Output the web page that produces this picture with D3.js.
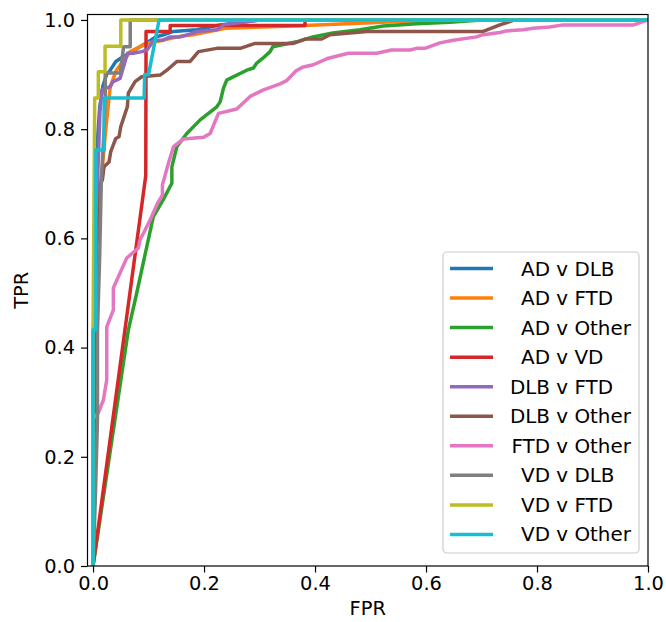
<!DOCTYPE html>
<html>
<head>
<meta charset="utf-8">
<script src="https://cdn.jsdelivr.net/npm/d3@7"></script>
<style>
  body { margin: 0; background: #fff; }
  text { font-family: "DejaVu Sans", sans-serif; fill: #000; }
</style>
</head>
<body>
<svg id="chart" width="666" height="622"></svg>
<script>
// ---------------- data ----------------
const seriesNames = ["AD v DLB", "AD v FTD", "AD v Other", "AD v VD", "DLB v FTD",
                     "DLB v Other", "FTD v Other", "VD v DLB", "VD v FTD", "VD v Other"];
const seriesColors = ["#1f77b4", "#ff7f0e", "#2ca02c", "#d62728", "#9467bd",
                      "#8c564b", "#e377c2", "#7f7f7f", "#bcbd22", "#17becf"];

const adDlbFpr = [0, 0, 0.005, 0.008, 0.012, 0.018, 0.025, 0.029, 0.041, 0.05, 0.075, 0.104, 0.113, 0.128, 0.145, 0.187, 0.229, 0.3, 1];
const adDlbTpr = [0, 0.35, 0.62, 0.78, 0.84, 0.88, 0.902, 0.905, 0.924, 0.93, 0.945, 0.963, 0.969, 0.973, 0.979, 0.982, 0.991, 1, 1];

const adFtdFpr = [0, 0, 0.005, 0.013, 0.016, 0.022, 0.025, 0.031, 0.042, 0.067, 0.096, 0.126, 0.157, 0.18, 0.241, 0.36, 0.5, 0.62, 1];
const adFtdTpr = [0, 0.35, 0.6, 0.7, 0.72, 0.79, 0.82, 0.878, 0.908, 0.942, 0.957, 0.963, 0.97, 0.973, 0.985, 0.989, 0.995, 1, 1];

const adOtherFpr = [0, 0.0636, 0.0798, 0.1086, 0.126, 0.142, 0.142, 0.151, 0.169, 0.193, 0.223, 0.229, 0.235, 0.241, 0.247, 0.277, 0.289, 0.295, 0.306, 0.319, 0.324, 0.367, 0.396, 0.432, 0.481, 0.523, 0.583, 0.643, 0.7, 1];
const adOtherTpr = [0, 0.432, 0.505, 0.64, 0.67, 0.701, 0.731, 0.768, 0.792, 0.817, 0.841, 0.85, 0.875, 0.89, 0.893, 0.908, 0.912, 0.921, 0.93, 0.942, 0.951, 0.96, 0.969, 0.976, 0.982, 0.989, 0.993, 0.996, 1, 1];

const adVdFpr = [0, 0.095, 0.0955, 0.139, 0.139, 0.382, 0.382, 1];
const adVdTpr = [0, 0.715, 0.979, 0.979, 0.99, 0.99, 1, 1];

const dlbFtdFpr = [0, 0, 0.005, 0.0126, 0.0157, 0.031, 0.036, 0.0486, 0.056, 0.062, 0.072, 0.088, 0.097, 0.11, 0.126, 0.139, 0.157, 0.18, 0.187, 0.223, 0.235, 0.3, 1];
const dlbFtdTpr = [0, 0.4, 0.62, 0.835, 0.872, 0.878, 0.887, 0.893, 0.918, 0.939, 0.939, 0.942, 0.945, 0.963, 0.963, 0.969, 0.969, 0.976, 0.979, 0.982, 0.991, 1, 1];

const dlbOtherFpr = [0, 0.003, 0.006, 0.0108, 0.0139, 0.0168, 0.0198, 0.0288, 0.0319, 0.041, 0.0468, 0.05, 0.0559, 0.0618, 0.0636, 0.0757, 0.0877, 0.121, 0.133, 0.151, 0.175, 0.19, 0.223, 0.265, 0.292, 0.361, 0.382, 0.412, 0.427, 0.493, 0.703, 0.733, 0.76, 1];
const dlbOtherTpr = [0, 0.3, 0.58, 0.634, 0.701, 0.707, 0.731, 0.74, 0.759, 0.783, 0.786, 0.805, 0.823, 0.841, 0.866, 0.887, 0.896, 0.899, 0.908, 0.924, 0.924, 0.942, 0.948, 0.948, 0.957, 0.957, 0.965, 0.965, 0.973, 0.979, 0.979, 0.991, 1, 1];

const ftdOtherFpr = [0, 0, 0.0095, 0.0186, 0.0247, 0.0247, 0.0366, 0.0366, 0.0607, 0.0816, 0.0847, 0.103, 0.116, 0.125, 0.125, 0.136, 0.145, 0.163, 0.199, 0.211, 0.226, 0.259, 0.283, 0.307, 0.337, 0.349, 0.366, 0.379, 0.397, 0.424, 0.46, 0.511, 0.538, 0.571, 0.583, 0.598, 0.625, 0.649, 0.691, 0.703, 0.733, 0.745, 0.775, 0.793, 0.823, 0.847, 0.974, 1];
const ftdOtherTpr = [0, 0.27, 0.28, 0.304, 0.341, 0.438, 0.469, 0.509, 0.564, 0.582, 0.597, 0.634, 0.664, 0.679, 0.698, 0.738, 0.768, 0.782, 0.785, 0.792, 0.829, 0.837, 0.86, 0.872, 0.883, 0.889, 0.907, 0.914, 0.918, 0.93, 0.939, 0.939, 0.945, 0.945, 0.948, 0.948, 0.958, 0.963, 0.969, 0.973, 0.977, 0.98, 0.982, 0.985, 0.987, 0.991, 0.991, 1];

const vdDlbFpr = [0, 0.004, 0.008, 0.008, 0.012, 0.015, 0.02, 0.022, 0.022, 0.049, 0.055, 0.067, 0.067, 1];
const vdDlbTpr = [0, 0.12, 0.27, 0.43, 0.57, 0.71, 0.8, 0.857, 0.903, 0.903, 0.951, 0.951, 1, 1];

const vdFtdFpr = [0, 0, 0.003, 0.0095, 0.0095, 0.0216, 0.0216, 0.05, 0.05, 1];
const vdFtdTpr = [0, 0.43, 0.857, 0.857, 0.905, 0.905, 0.952, 0.952, 1, 1];

const vdOtherFpr = [0, 0, 0.005, 0.005, 0.02, 0.02, 0.092, 0.093, 0.1, 0.119, 1];
const vdOtherTpr = [0, 0.432, 0.432, 0.762, 0.762, 0.857, 0.857, 0.9, 0.9, 1, 1];

const fprSeries = [adDlbFpr, adFtdFpr, adOtherFpr, adVdFpr, dlbFtdFpr, dlbOtherFpr, ftdOtherFpr, vdDlbFpr, vdFtdFpr, vdOtherFpr];
const tprSeries = [adDlbTpr, adFtdTpr, adOtherTpr, adVdTpr, dlbFtdTpr, dlbOtherTpr, ftdOtherTpr, vdDlbTpr, vdFtdTpr, vdOtherTpr];

const xTicks = [0.0, 0.2, 0.4, 0.6, 0.8, 1.0];
const yTicks = [0.0, 0.2, 0.4, 0.6, 0.8, 1.0];
const xLabel = "FPR";
const yLabel = "TPR";

// ---------------- layout ----------------
const plot = { left: 87.5, right: 648, top: 14.5, bottom: 566 };
const fontSize = 19.4;
const legendFont = 19.9;
const lineW = 3.5;

const svg = d3.select("#chart");
const x = d3.scaleLinear().domain([-0.01, 1.0]).range([plot.left, plot.right]);
const y = d3.scaleLinear().domain([0.0, 1.01]).range([plot.bottom, plot.top]);

svg.append("defs").append("clipPath").attr("id", "clip")
  .append("rect").attr("x", plot.left).attr("y", plot.top)
  .attr("width", plot.right - plot.left).attr("height", plot.bottom - plot.top);

// lines
const line = d3.line().x(d => x(d[0])).y(d => y(d[1]));
const gLines = svg.append("g").attr("clip-path", "url(#clip)");
seriesNames.forEach((name, i) => {
  const pts = fprSeries[i].map((f, j) => [f, tprSeries[i][j]]);
  gLines.append("path")
    .datum(pts)
    .attr("d", line)
    .attr("fill", "none")
    .attr("stroke", seriesColors[i])
    .attr("stroke-width", lineW)
    .attr("stroke-linejoin", "round")
    .attr("stroke-linecap", "square");
});

// axes
const fmt = d3.format(".1f");
const xAxis = d3.axisBottom(x).tickValues(xTicks).tickFormat(fmt).tickSize(6.5).tickPadding(4);
const yAxis = d3.axisLeft(y).tickValues(yTicks).tickFormat(fmt).tickSize(6.5).tickPadding(6);

const gx = svg.append("g").attr("transform", `translate(0,${plot.bottom})`).call(xAxis);
const gy = svg.append("g").attr("transform", `translate(${plot.left},0)`).call(yAxis);
[gx, gy].forEach(g => {
  g.select(".domain").remove();
  g.selectAll(".tick line").attr("stroke", "#000").attr("stroke-width", 1.2);
  g.selectAll(".tick text").attr("font-size", fontSize)
    .attr("font-family", "DejaVu Sans").attr("fill", "#000");
});

// frame
svg.append("rect")
  .attr("x", plot.left).attr("y", plot.top)
  .attr("width", plot.right - plot.left).attr("height", plot.bottom - plot.top)
  .attr("fill", "none").attr("stroke", "#000").attr("stroke-width", 1.2);

// axis labels
svg.append("text").attr("x", (plot.left + plot.right) / 2).attr("y", 615)
  .attr("text-anchor", "middle").attr("font-size", fontSize).text(xLabel);
svg.append("text")
  .attr("transform", `translate(28,${(plot.top + plot.bottom) / 2}) rotate(-90)`)
  .attr("text-anchor", "middle").attr("font-size", fontSize).text(yLabel);

// legend
const leg = { x: 443, y: 252, w: 196, h: 301, row0: 268.5, dy: 29.55 };
svg.append("rect")
  .attr("x", leg.x).attr("y", leg.y).attr("width", leg.w).attr("height", leg.h)
  .attr("rx", 4).attr("fill", "#fff").attr("fill-opacity", 0.8)
  .attr("stroke", "#cccccc").attr("stroke-width", 1.2);
const prefixEnd = 550;
seriesNames.forEach((name, i) => {
  const cy = leg.row0 + i * leg.dy;
  svg.append("line").attr("x1", 450).attr("x2", 493).attr("y1", cy).attr("y2", cy)
    .attr("stroke", seriesColors[i]).attr("stroke-width", lineW);
  const parts = name.split(" v ");
  svg.append("text").attr("x", prefixEnd).attr("y", cy + 7)
    .attr("text-anchor", "end").attr("font-size", legendFont).text(parts[0]);
  svg.append("text").attr("x", prefixEnd + 6.3).attr("y", cy + 7)
    .attr("text-anchor", "start").attr("font-size", legendFont).text("v " + parts[1]);
});
</script>
</body>
</html>
